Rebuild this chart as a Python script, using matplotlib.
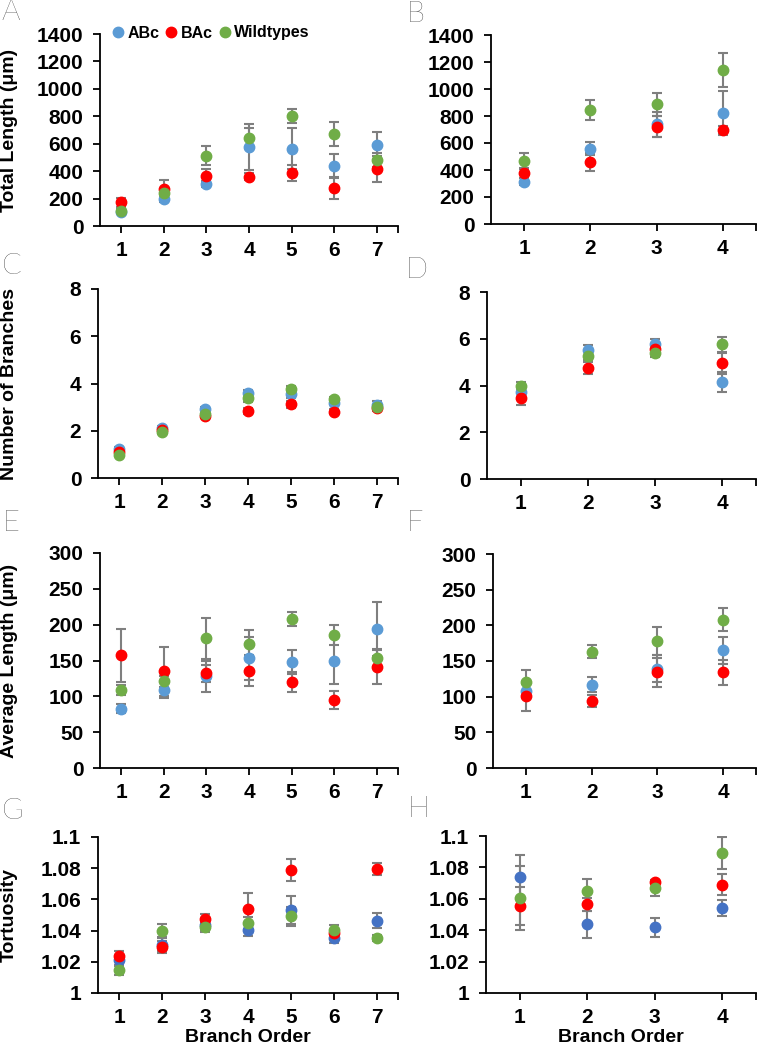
import matplotlib.pyplot as plt
from matplotlib.lines import Line2D
import numpy as np

# branch orders
branch7 = [1, 2, 3, 4, 5, 6, 7]
branch4 = [1, 2, 3, 4]
groups = ['ABc', 'BAc', 'Wildtypes']

# A - total length (7 orders)
totlen7_abc = [100, 197, 306, 576, 564, 440, 590]
totlen7_abc_err = [15, 20, 20, 165, 150, 85, 98]
totlen7_bac = [172, 273, 367, 358, 386, 274, 418]
totlen7_bac_err = [35, 60, 45, 25, 60, 78, 95]
totlen7_wt = [112, 243, 513, 639, 800, 671, 481]
totlen7_wt_err = [20, 25, 70, 78, 51, 85, 50]

# B - total length (4 orders)
totlen4_abc = [313, 557, 738, 822]
totlen4_abc_err = [25, 48, 95, 163]
totlen4_bac = [378, 457, 721, 699]
totlen4_bac_err = [40, 67, 80, 30]
totlen4_wt = [466, 842, 886, 1140]
totlen4_wt_err = [59, 74, 84, 126]

# C - number of branches (7 orders)
nbr7_abc = [1.22, 2.10, 2.90, 3.58, 3.55, 3.19, 3.09]
nbr7_abc_err = [0.08, 0.10, 0.10, 0.15, 0.15, 0.12, 0.15]
nbr7_bac = [1.10, 2.03, 2.63, 2.83, 3.13, 2.80, 2.95]
nbr7_bac_err = [0.08, 0.08, 0.10, 0.12, 0.15, 0.10, 0.10]
nbr7_wt = [0.98, 1.96, 2.70, 3.37, 3.77, 3.33, 3.02]
nbr7_wt_err = [0.05, 0.08, 0.10, 0.15, 0.12, 0.10, 0.12]

# D - number of branches (4 orders)
nbr4_abc = [3.71, 5.50, 5.77, 4.16]
nbr4_abc_err = [0.20, 0.24, 0.20, 0.42]
nbr4_bac = [3.48, 4.74, 5.56, 4.96]
nbr4_bac_err = [0.33, 0.25, 0.20, 0.45]
nbr4_wt = [3.96, 5.27, 5.41, 5.77]
nbr4_wt_err = [0.20, 0.20, 0.20, 0.32]

# E - average length (7 orders)
avglen7_abc = [83, 109, 128, 153, 148, 150, 194]
avglen7_abc_err = [6, 12, 22, 30, 17, 33, 38]
avglen7_bac = [157, 135, 132, 136, 120, 95, 141]
avglen7_bac_err = [37, 34, 12, 22, 14, 13, 24]
avglen7_wt = [109, 121, 181, 173, 208, 185, 154]
avglen7_wt_err = [7, 8, 29, 19, 10, 14, 12]

# F - average length (4 orders)
avglen4_abc = [108, 117, 139, 165]
avglen4_abc_err = [10, 11, 19, 19]
avglen4_bac = [101, 94, 134, 134]
avglen4_bac_err = [21, 9, 20, 17]
avglen4_wt = [120, 163, 178, 208]
avglen4_wt_err = [17, 9, 20, 16]

# G - tortuosity (7 orders)
tort7_abc = [1.021, 1.031, 1.0434, 1.0404, 1.053, 1.035, 1.0464]
tort7_abc_err = [0.003, 0.004, 0.003, 0.0036, 0.009, 0.003, 0.005]
tort7_bac = [1.024, 1.0294, 1.0474, 1.054, 1.0791, 1.0383, 1.0794]
tort7_bac_err = [0.003, 0.004, 0.003, 0.010, 0.007, 0.003, 0.004]
tort7_wt = [1.0145, 1.040, 1.0423, 1.0449, 1.0491, 1.0404, 1.0351]
tort7_wt_err = [0.003, 0.0043, 0.003, 0.004, 0.006, 0.003, 0.002]

# H - tortuosity (4 orders)
tort4_abc = [1.0742, 1.0438, 1.0419, 1.0541]
tort4_abc_err = [0.014, 0.0087, 0.006, 0.005]
tort4_bac = [1.0552, 1.0564, 1.0708, 1.0691]
tort4_bac_err = [0.012, 0.004, 0.001, 0.0065]
tort4_wt = [1.0607, 1.0647, 1.067, 1.0892]
tort4_wt_err = [0.0205, 0.008, 0.005, 0.0104]

light_blue = '#5b9bd5'
dark_blue = '#4472c4'
red = '#ff0000'
green = '#70ad47'
grey = '#7f7f7f'

plt.rcParams['font.family'] = ['Liberation Sans', 'DejaVu Sans']
plt.rcParams['font.weight'] = 'bold'

W, H = 758, 1050
fig = plt.figure(figsize=(W / 100, H / 100), dpi=100)


def px_axes(left, top, right, bottom):
    return fig.add_axes([left / W, 1 - bottom / H, (right - left) / W, (bottom - top) / H])


def panel(box, x, series, ylim, yticks, ylabels=None, ylabel=None, xlabel=None):
    ax = px_axes(*box)
    for y, err, c in series:
        ax.errorbar(x, y, yerr=err, fmt='o', color=c, mec=c, ecolor=grey, elinewidth=1.5,
                    capsize=3.5, capthick=1.5, markersize=7.5)
    ax.set_xlim(0.5, len(x) + 0.5)
    ax.set_ylim(*ylim)
    ax.set_xticks(x)
    ax.set_xticks([len(x) + 0.5], minor=True)
    ax.set_yticks(yticks)
    if ylabels is not None:
        ax.set_yticklabels(ylabels)
    for s in ['top', 'right']:
        ax.spines[s].set_visible(False)
    for s in ['left', 'bottom']:
        ax.spines[s].set_linewidth(1.3)
    ax.tick_params(which='both', direction='out', length=5, width=1.3, labelsize=15)
    ax.tick_params(axis='x', pad=6)
    ax.tick_params(axis='y', pad=7)
    for lab in ax.get_xticklabels() + ax.get_yticklabels():
        lab.set_fontweight('bold')
    if ylabel:
        ax.set_ylabel(ylabel, fontsize=14, fontweight='bold')
        ax.yaxis.set_label_coords((18 - box[0]) / (box[2] - box[0]), 0.5)
    if xlabel:
        ax.set_xlabel(xlabel, fontsize=14, fontweight='bold', labelpad=1)
    return ax


axA = panel((100, 34, 398, 226), branch7,
            [(totlen7_abc, totlen7_abc_err, light_blue),
             (totlen7_bac, totlen7_bac_err, red),
             (totlen7_wt, totlen7_wt_err, green)],
            (0, 1400), np.arange(0, 1401, 200), ylabel='Total Length (μm)')
panel((491, 35, 756, 224), branch4,
      [(totlen4_abc, totlen4_abc_err, light_blue),
       (totlen4_bac, totlen4_bac_err, red),
       (totlen4_wt, totlen4_wt_err, green)],
      (0, 1400), np.arange(0, 1401, 200))

panel((98, 289, 398, 478), branch7,
      [(nbr7_abc, nbr7_abc_err, light_blue),
       (nbr7_bac, nbr7_bac_err, red),
       (nbr7_wt, nbr7_wt_err, green)],
      (0, 8), [0, 2, 4, 6, 8], ylabel='Number of Branches')
panel((487, 292, 756, 479), branch4,
      [(nbr4_abc, nbr4_abc_err, light_blue),
       (nbr4_bac, nbr4_bac_err, red),
       (nbr4_wt, nbr4_wt_err, green)],
      (0, 8), [0, 2, 4, 6, 8])

panel((100, 553, 398, 768), branch7,
      [(avglen7_abc, avglen7_abc_err, light_blue),
       (avglen7_bac, avglen7_bac_err, red),
       (avglen7_wt, avglen7_wt_err, green)],
      (0, 300), np.arange(0, 301, 50), ylabel='Average Length (μm)')
panel((493, 554, 756, 768), branch4,
      [(avglen4_abc, avglen4_abc_err, light_blue),
       (avglen4_bac, avglen4_bac_err, red),
       (avglen4_wt, avglen4_wt_err, green)],
      (0, 300), np.arange(0, 301, 50))

tort_ticks = [1, 1.02, 1.04, 1.06, 1.08, 1.1]
tort_labels = ['1', '1.02', '1.04', '1.06', '1.08', '1.1']
panel((98, 837, 398, 993), branch7,
      [(tort7_abc, tort7_abc_err, dark_blue),
       (tort7_bac, tort7_bac_err, red),
       (tort7_wt, tort7_wt_err, green)],
      (1, 1.1), tort_ticks, tort_labels, ylabel='Tortuosity', xlabel='Branch Order')
panel((486, 836, 756, 993), branch4,
      [(tort4_abc, tort4_abc_err, dark_blue),
       (tort4_bac, tort4_bac_err, red),
       (tort4_wt, tort4_wt_err, green)],
      (1, 1.1), tort_ticks, tort_labels, xlabel='Branch Order')

# legend on panel A
handles = [Line2D([], [], marker='o', linestyle='none', color=c, markersize=7.5)
           for c in [light_blue, red, green]]
fig.legend(handles, groups, loc='center left', bbox_to_anchor=(108 / W, 1 - 33 / H),
           ncol=3, frameon=False, handletextpad=0.0, columnspacing=0.15, handlelength=1.2,
           borderaxespad=0, borderpad=0, prop={'weight': 'bold', 'size': 11.5})

# panel letters
letters = [('A', 1, 12), ('B', 407, 14), ('C', 2, 266), ('D', 406, 270),
           ('E', 3, 523), ('F', 407, 523), ('G', 2, 811), ('H', 408, 809)]
for lab, x, y in letters:
    fig.text(x / W, 1 - y / H, lab, fontsize=21, fontweight='light', color='black',
             family=['Lato', 'DejaVu Sans'], va='center', ha='left')

fig.savefig('out.png', dpi=100)
